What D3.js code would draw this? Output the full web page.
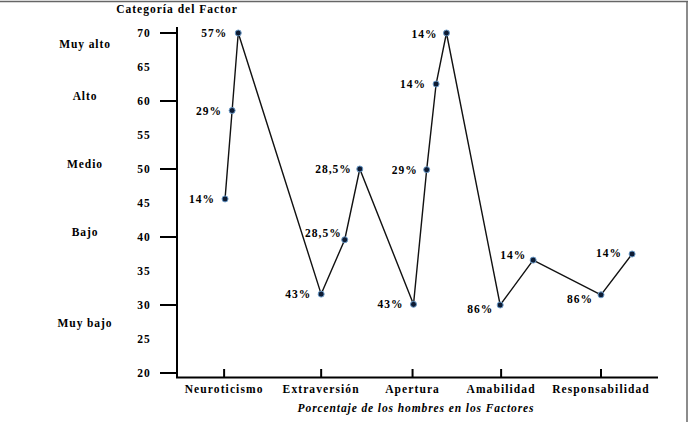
<!DOCTYPE html>
<html>
<head>
<meta charset="utf-8">
<script src="https://cdn.jsdelivr.net/npm/d3@7"></script>
<style>
  body { margin: 0; background: #fff; }
</style>
</head>
<body>
<svg id="chart" width="690" height="422" font-family="'Liberation Serif', 'DejaVu Serif', serif" font-weight="bold"></svg>
<script>
// categories on the x axis and where their ticks sit (category units)
const categories = ["Neuroticismo", "Extraversión", "Apertura", "Amabilidad", "Responsabilidad"];
const categoryPos = [0, 1.03, 2.0, 2.94, 4.0];

// levels shown on the left
const levels = ["Muy alto", "Alto", "Medio", "Bajo", "Muy bajo"];
const levelValues = [68.4, 60.7, 50.7, 40.7, 27.3];

// y ticks
const yTicks = [20, 25, 30, 35, 40, 45, 50, 55, 60, 65, 70];
const yMajor = [20, 30, 40, 50, 60, 70];

// the series: x position (category units), value and percentage label
const pointX = [0.01, 0.085, 0.15, 1.03, 1.28, 1.44, 2.01, 2.15, 2.25, 2.36, 2.93, 3.28, 4.0, 4.33];
const pointY = [45.6, 58.6, 70, 31.6, 39.6, 50, 30.1, 49.9, 62.5, 70, 30, 36.6, 31.5, 37.5];
const pointLabel = ["14%", "29%", "57%", "43%", "28,5%", "28,5%", "43%", "29%", "14%", "14%", "86%", "14%", "86%", "14%"];

// label nudges (dx, dy) in px
const labelNudge = [[-10,0],[-10,0],[-11,0],[-10,0],[-3,-7],[-8,0],[-10,0],[-9,0],[-10,0],[-9,1],[-7,4],[-7,-5],[-8,4],[-10,-1]];

const svg = d3.select("#chart");

const x = d3.scaleLinear().domain([-0.5, 4.605]).range([177, 658]);
const y = d3.scaleLinear().domain([20, 70]).range([373, 33]);

// frame (top and right)
svg.append("line").attr("x1", 0).attr("x2", 688).attr("y1", 1.5).attr("y2", 1.5)
  .attr("stroke", "#666").attr("stroke-width", 1.5);
svg.append("line").attr("x1", 687).attr("x2", 687).attr("y1", 1).attr("y2", 422)
  .attr("stroke", "#666").attr("stroke-width", 1.5);

// y axis line
svg.append("line").attr("x1", 177).attr("x2", 177).attr("y1", 27).attr("y2", 378)
  .attr("stroke", "#000").attr("stroke-width", 2);
// x axis line
svg.append("line").attr("x1", 176).attr("x2", 658).attr("y1", 377.5).attr("y2", 377.5)
  .attr("stroke", "#000").attr("stroke-width", 2);

// y major ticks
svg.selectAll(".ytick").data(yMajor).join("line")
  .attr("class", "ytick")
  .attr("x1", 160).attr("x2", 177)
  .attr("y1", d => y(d)).attr("y2", d => y(d))
  .attr("stroke", "#000").attr("stroke-width", 2);

// y tick labels
svg.selectAll(".ylab").data(yTicks).join("text")
  .attr("class", "ylab")
  .attr("x", 144).attr("y", d => y(d))
  .attr("text-anchor", "middle").attr("dominant-baseline", "central")
  .style("font-size", "11.5px").style("letter-spacing", "1px")
  .text(d => d);

// level labels
svg.selectAll(".lvl").data(levels).join("text")
  .attr("class", "lvl")
  .attr("x", 85).attr("y", (d, i) => y(levelValues[i]))
  .attr("text-anchor", "middle").attr("dominant-baseline", "central")
  .style("font-size", "11.5px").style("letter-spacing", "0.9px")
  .text(d => d);

// title
svg.append("text").attr("x", 177).attr("y", 9)
  .attr("text-anchor", "middle").attr("dominant-baseline", "central")
  .style("font-size", "11.5px").style("letter-spacing", "1px")
  .text("Categoría del Factor");

// x ticks
svg.selectAll(".xtick").data(categoryPos).join("line")
  .attr("class", "xtick")
  .attr("x1", d => x(d)).attr("x2", d => x(d))
  .attr("y1", 369).attr("y2", 378)
  .attr("stroke", "#000").attr("stroke-width", 2);

svg.selectAll(".xlab").data(categories).join("text")
  .attr("class", "xlab")
  .attr("x", (d, i) => x(categoryPos[i])).attr("y", 389)
  .attr("text-anchor", "middle").attr("dominant-baseline", "central")
  .style("font-size", "11.5px").style("letter-spacing", "1.1px")
  .text(d => d);

svg.append("text").attr("x", 416).attr("y", 408)
  .attr("text-anchor", "middle").attr("dominant-baseline", "central")
  .style("font-size", "11.5px").style("font-style", "italic").style("letter-spacing", "0.9px")
  .text("Porcentaje de los hombres en los Factores");

// series
const pts = pointX.map((v, i) => ({x: v, y: pointY[i], label: pointLabel[i], nudge: labelNudge[i]}));

svg.append("path").datum(pts)
  .attr("fill", "none").attr("stroke", "#111").attr("stroke-width", 1.4)
  .attr("d", d3.line().x(d => x(d.x)).y(d => y(d.y)));

svg.selectAll(".pt").data(pts).join("circle")
  .attr("class", "pt")
  .attr("cx", d => x(d.x)).attr("cy", d => y(d.y))
  .attr("r", 3)
  .attr("fill", "#0d1b33").attr("stroke", "#6a9ac8").attr("stroke-width", 1);

svg.selectAll(".plab").data(pts).join("text")
  .attr("class", "plab")
  .attr("x", d => x(d.x) + d.nudge[0]).attr("y", d => y(d.y) + d.nudge[1])
  .attr("text-anchor", "end").attr("dominant-baseline", "central")
  .style("font-size", "11.5px").style("letter-spacing", "1px")
  .text(d => d.label);
</script>
</body>
</html>
